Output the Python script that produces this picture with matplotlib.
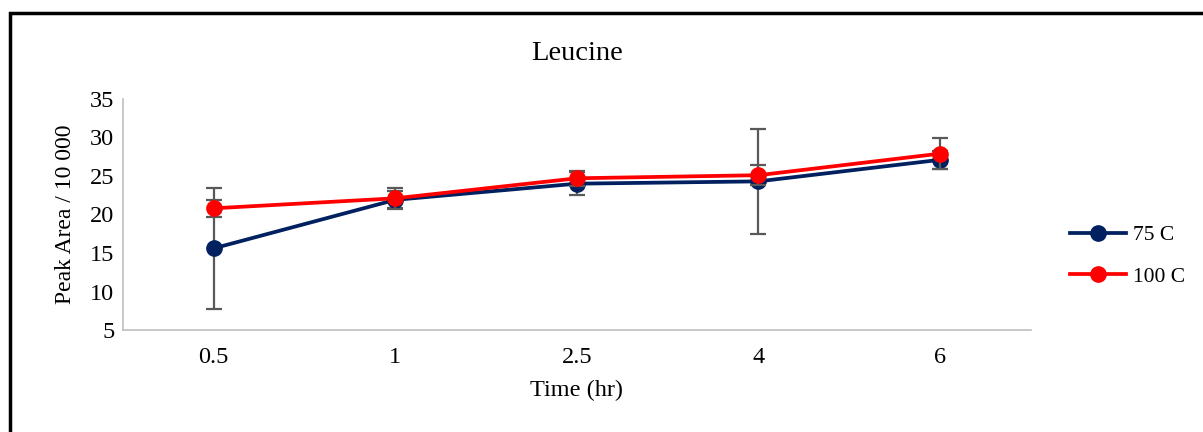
import matplotlib.pyplot as plt
from matplotlib.lines import Line2D
from matplotlib.patches import Rectangle

plt.rcParams['font.family'] = ['Liberation Serif', 'DejaVu Serif']

# Leucine peak area over time at two temperatures
times = ['0.5', '1', '2.5', '4', '6']
area_75 = [15.6, 21.9, 24.0, 24.3, 27.1]
err_75 = [7.9, 1.1, 1.5, 6.8, 1.2]
area_100 = [20.8, 22.1, 24.7, 25.1, 27.9]
err_100 = [1.1, 1.4, 1.0, 1.3, 2.0]

blue = '#002060'
red = '#FF0000'

fig = plt.figure(figsize=(12.03, 4.32), dpi=100)
ax = fig.add_axes([0.102, 0.236, 0.755, 0.535])

x = range(len(times))
ax.errorbar(x, area_75, yerr=err_75, color=blue, lw=2.7, marker='o',
            ms=11, ecolor='#595959', elinewidth=1.6, capsize=6, capthick=1.6,
            zorder=3)
ax.errorbar(x, area_100, yerr=err_100, color=red, lw=2.7, marker='o',
            ms=11, ecolor='#595959', elinewidth=1.6, capsize=6, capthick=1.6,
            zorder=4)

ax.set_xlim(-0.5, len(times) - 0.5)
ax.set_ylim(5, 35)
ax.set_yticks(range(5, 36, 5))
ax.set_xticks(list(x))
ax.set_xticklabels(times)
ax.tick_params(length=0, labelsize=17.5, pad=12)
ax.tick_params(axis='y', pad=6)
for side in ['top', 'right']:
    ax.spines[side].set_visible(False)
for side in ['left', 'bottom']:
    ax.spines[side].set_color('#BFBFBF')
    ax.spines[side].set_linewidth(1.2)

ax.set_title('Leucine', fontsize=20.5, pad=28)
ax.set_xlabel('Time (hr)', fontsize=17.5, labelpad=9)
ax.set_ylabel('Peak Area / 10 000', fontsize=17, labelpad=10)

handles = [Line2D([], [], color=blue, lw=2.7, marker='o', ms=11),
           Line2D([], [], color=red, lw=2.7, marker='o', ms=11)]
ax.legend(handles, ['75 C', '100 C'], loc='center left',
          bbox_to_anchor=(1.022, 0.32), frameon=False, fontsize=15.5,
          handlelength=2.6, labelspacing=1.0, handletextpad=0.3)

# outer frame
fig.patches.append(Rectangle((0.008, -0.1), 1.1, 1.07, transform=fig.transFigure,
                             fill=False, edgecolor='black', lw=2.5))

fig.savefig('out.png', dpi=100)
